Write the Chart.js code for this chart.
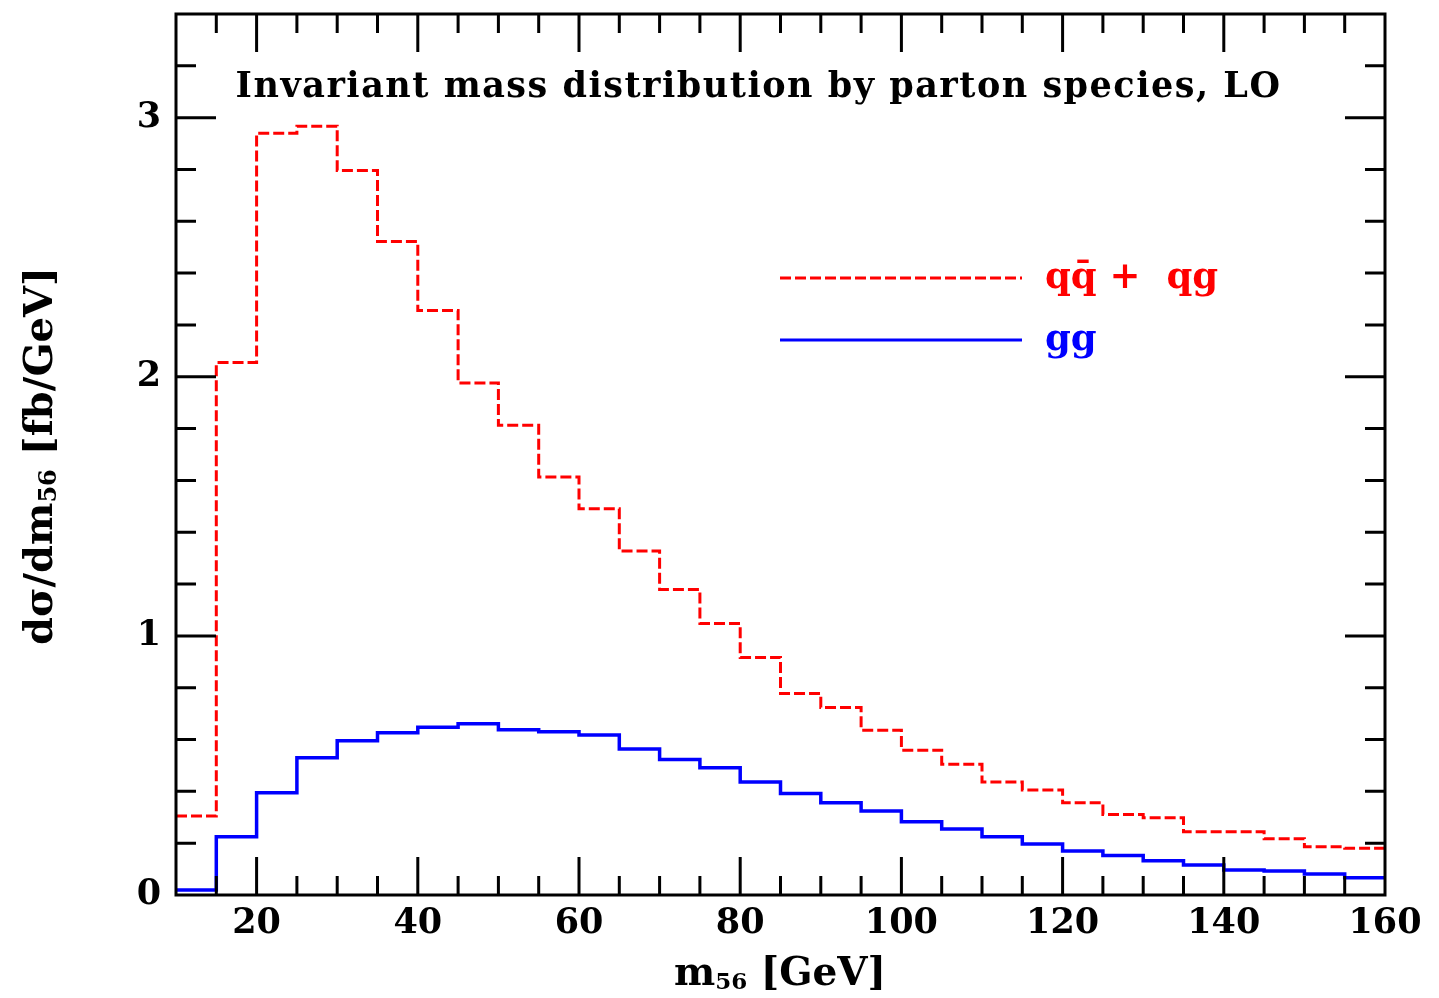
<!DOCTYPE html>
<html>
<head>
<meta charset="utf-8">
<script src="https://cdn.jsdelivr.net/npm/chart.js@4.4.1/dist/chart.umd.min.js"></script>
<style>
html, body { margin: 0; padding: 0; background: #fff; }
</style>
</head>
<body>
<canvas id="c" width="1439" height="998"></canvas>
<script>
// bin edges of the m56 histogram (GeV)
const binEdges = [10, 15, 20, 25, 30, 35, 40, 45, 50, 55, 60, 65, 70, 75, 80, 85, 90, 95, 100,
  105, 110, 115, 120, 125, 130, 135, 140, 145, 150, 155, 160]

// dsigma/dm56 per bin, fb/GeV
const qqbarQg = [0.305, 2.055, 2.94, 2.967, 2.796, 2.522, 2.256, 1.976, 1.813, 1.613,
  1.491, 1.328, 1.179, 1.048, 0.917, 0.778, 0.724, 0.636, 0.559, 0.505,
  0.436, 0.405, 0.356, 0.311, 0.298, 0.244, 0.244, 0.217, 0.186, 0.180]
const gg = [0.019, 0.225, 0.395, 0.530, 0.595, 0.626, 0.647, 0.661, 0.638, 0.630,
  0.617, 0.563, 0.523, 0.491, 0.436, 0.392, 0.356, 0.324, 0.283, 0.255,
  0.225, 0.197, 0.170, 0.152, 0.132, 0.116, 0.096, 0.093, 0.081, 0.067]

const xTickLabels = [20, 40, 60, 80, 100, 120, 140, 160]
const xMinorTicks = [15, 20, 25, 30, 35, 40, 45, 50, 55, 60, 65, 70, 75, 80, 85, 90, 95,
  100, 105, 110, 115, 120, 125, 130, 135, 140, 145, 150, 155]
const yTickLabels = [0, 1, 2, 3]
const yMinorTicks = [0.2, 0.4, 0.6, 0.8, 1, 1.2, 1.4, 1.6, 1.8, 2, 2.2, 2.4, 2.6, 2.8, 3, 3.2]

const FONT = '"DejaVu Serif", serif'

const histPoints = (vals) => {
	const pts = vals.map((v, i) => ({ x: binEdges[i], y: v }))
	pts.push({ x: binEdges[binEdges.length - 1], y: vals[vals.length - 1] })
	return pts
}

// text with a "56" subscript part
const drawSubText = (ctx, parts, x, y, size) => {
	let cx = x
	for (const [txt, sub] of parts) {
		ctx.font = `bold ${sub ? Math.round(size * 0.6) : size}px ${FONT}`
		ctx.fillText(txt, cx, sub ? y + size * 0.1 : y)
		cx += ctx.measureText(txt).width
	}
	return cx - x
}
const measureSubText = (ctx, parts, size) => {
	let w = 0
	for (const [txt, sub] of parts) {
		ctx.font = `bold ${sub ? Math.round(size * 0.6) : size}px ${FONT}`
		w += ctx.measureText(txt).width
	}
	return w
}

const decor = {
	id: 'decor',
	afterDraw(chart) {
		const { ctx, chartArea: a, scales: { x, y } } = chart
		ctx.save()
		ctx.strokeStyle = '#000'
		ctx.lineWidth = 3
		ctx.lineCap = 'butt'

		// inward ticks on all four sides
		ctx.beginPath()
		xMinorTicks.forEach((v) => {
			const px = x.getPixelForValue(v)
			const len = v % 20 === 0 ? 38 : 19
			ctx.moveTo(px, a.bottom)
			ctx.lineTo(px, a.bottom - len)
			ctx.moveTo(px, a.top)
			ctx.lineTo(px, a.top + len)
		})
		yMinorTicks.forEach((v) => {
			const py = y.getPixelForValue(v)
			const len = Number.isInteger(v) ? 40 : 20
			ctx.moveTo(a.left, py)
			ctx.lineTo(a.left + len, py)
			ctx.moveTo(a.right, py)
			ctx.lineTo(a.right - len, py)
		})
		ctx.stroke()
		ctx.strokeRect(a.left, a.top, a.right - a.left, a.bottom - a.top)

		// title inside the frame
		ctx.fillStyle = '#000'
		ctx.textBaseline = 'alphabetic'
		ctx.textAlign = 'left'
		ctx.font = `bold 35px ${FONT}`
		ctx.letterSpacing = '1.5px'
		const title = 'Invariant mass distribution by parton species, LO'
		const tw = ctx.measureText(title).width
		ctx.fillText(title, (225 + 1292) / 2 - tw / 2, 97)
		ctx.letterSpacing = '0px'

		// legend
		const legendRows = [
			{ ds: chart.data.datasets[0], y: 278, label: 'qq\u0304 +  qg' },
			{ ds: chart.data.datasets[1], y: 340, label: 'gg' }
		]
		legendRows.forEach((r) => {
			ctx.strokeStyle = r.ds.borderColor
			ctx.lineWidth = 3
			ctx.setLineDash(r.ds.borderDash || [])
			ctx.beginPath()
			ctx.moveTo(780, r.y)
			ctx.lineTo(1022, r.y)
			ctx.stroke()
			ctx.setLineDash([])
			ctx.fillStyle = r.ds.borderColor
			ctx.font = `bold 37px ${FONT}`
			ctx.fillText(r.label, 1045, r.y + 10)
		})

		// axis titles
		ctx.fillStyle = '#000'
		const xt = [['m', false], ['56', true], [' [GeV]', false]]
		const xw = measureSubText(ctx, xt, 39)
		drawSubText(ctx, xt, 780 - xw / 2, 985, 39)

		const yt = [['d\u03c3/dm', false], ['56', true], [' [fb/GeV]', false]]
		ctx.translate(52, 456)
		ctx.rotate(-Math.PI / 2)
		const yw = measureSubText(ctx, yt, 40)
		drawSubText(ctx, yt, -yw / 2, 0, 40)
		ctx.restore()
	}
}

new Chart(document.getElementById('c'), {
	type: 'line',
	data: {
		datasets: [
			{
				label: 'qq\u0304 + qg',
				data: histPoints(qqbarQg),
				borderColor: '#ff0000',
				borderWidth: 3,
				borderDash: [11, 4],
				stepped: 'before',
				pointRadius: 0,
				fill: false
			},
			{
				label: 'gg',
				data: histPoints(gg),
				borderColor: '#0000ff',
				borderWidth: 3.5,
				stepped: 'before',
				pointRadius: 0,
				fill: false
			}
		]
	},
	options: {
		responsive: false,
		animation: false,
		layout: { padding: { top: 14, right: 54, left: 0, bottom: 0 } },
		plugins: { legend: { display: false }, tooltip: { enabled: false } },
		scales: {
			x: {
				type: 'linear',
				min: 10,
				max: 160,
				grid: { display: false, drawTicks: false },
				border: { display: false },
				afterBuildTicks: (s) => { s.ticks = xTickLabels.map((v) => ({ value: v })) },
				afterFit: (s) => { s.height = 103; s.paddingLeft = 0; s.paddingRight = 0 },
				ticks: {
					color: '#000',
					padding: 8,
					maxRotation: 0,
					font: { family: FONT, weight: 'bold', size: 35 }
				}
			},
			y: {
				type: 'linear',
				min: 0,
				max: 3.4,
				grid: { display: false, drawTicks: false },
				border: { display: false },
				afterBuildTicks: (s) => { s.ticks = yTickLabels.map((v) => ({ value: v })) },
				afterFit: (s) => { s.width = 176; s.paddingTop = 0; s.paddingBottom = 0 },
				ticks: {
					color: '#000',
					padding: 15,
					font: { family: FONT, weight: 'bold', size: 35 }
				}
			}
		}
	},
	plugins: [decor]
})
</script>
</body>
</html>
